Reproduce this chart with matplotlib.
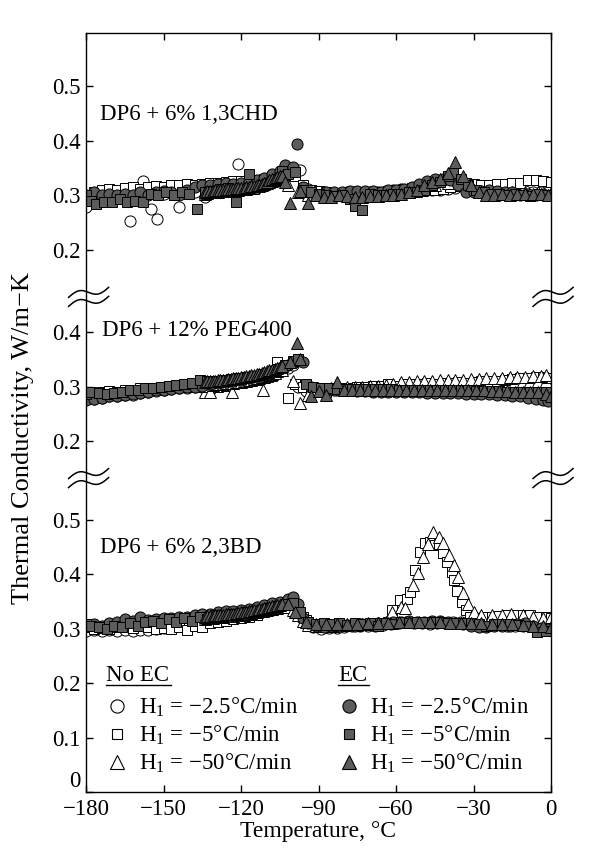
import numpy as np
import matplotlib.pyplot as plt
from matplotlib.lines import Line2D

plt.rcParams['font.family'] = 'Liberation Serif'
plt.rcParams['mathtext.fontset'] = 'custom'
plt.rcParams['mathtext.rm'] = 'Liberation Serif'
plt.rcParams['mathtext.it'] = 'Liberation Serif:italic'

# ---- data: (temperature degC, thermal conductivity W/m-K) ----
# panel 1: DP6 + 6% 1,3CHD
chd_noec_25 = [(-180,.278),(-178,.300),(-175,.305),(-172,.303),(-169,.305),(-166,.308),(-163,.252),(-160,.300),
               (-158,.326),(-155,.274),(-152.5,.256),(-150,.302),(-147,.305),(-144,.278),(-141,.310),(-138,.305),
               (-134,.296),(-131,.312),(-128,.315),(-125,.312),(-121,.357),(-118,.318),(-115,.320),(-112,.322),
               (-109,.325),(-106,.330),(-103,.336),(-100,.340),(-97,.346),(-94,.312),(-91,.306),(-88,.305),
               (-85,.303),(-82,.302),(-79,.305),(-76,.305),(-73,.303),(-70,.305),(-67,.306),(-64,.308),
               (-61,.310),(-58,.311),(-55,.312),(-52,.313),(-49,.312),(-46,.309),(-43,.309),(-40,.311),
               (-37,.313),(-34,.318),(-31,.314),(-28,.310),(-25,.310),(-22,.310),(-19,.309),(-16,.308),
               (-13,.308),(-10,.307),(-7,.306),(-4,.306),(-1,.305)]
chd_noec_5 = [(-180,.300),(-177,.305),(-174,.310),(-171,.312),(-168,.310),(-165,.313),(-162,.315),(-159,.312),
              (-156,.315),(-153,.316),(-150,.315),(-147,.318),(-144,.318),(-141,.320),(-138,.318),(-135,.320),
              (-132,.322),(-129,.323),(-126,.325),(-123,.326),(-120,.326),(-117,.328),(-114,.328),(-111,.330),
              (-108,.333),(-105,.337),(-102,.340),(-99,.335),(-96,.318),(-93,.310),(-90,.308),(-87,.305),
              (-84,.303),(-81,.302),(-78,.303),(-75,.305),(-72,.306),(-69,.306),(-66,.306),(-63,.308),
              (-60,.310),(-57,.312),(-54,.313),(-51,.315),(-48,.313),(-45,.310),(-42,.312),(-39,.315),
              (-36,.320),(-33,.322),(-30,.320),(-27,.318),(-24,.318),(-21,.320),(-18,.320),(-15,.322),
              (-12,.322),(-9,.328),(-6,.328),(-3,.326),(0,.324)]
chd_noec_50 = [(-134,.303),(-133,.304),(-132,.305),(-131,.305),(-130,.306),(-129,.306),(-128,.307),(-127,.307),
               (-126,.308),(-125,.308),(-124,.309),(-123,.309),(-122,.310),(-121,.310),(-120,.311),(-119,.311),
               (-118,.312),(-117,.313),(-116,.314),(-115,.315),(-114,.316),(-113,.317),(-112,.318),(-111,.320),
               (-110,.322),(-109,.324),(-108,.326),(-107,.327),(-106,.328),(-105,.330),(-104,.330),(-102,.318),
               (-98,.305),(-94,.300),(-90,.300),(-85,.301),(-80,.302),(-75,.302),(-70,.303),(-65,.304),
               (-60,.305),(-55,.306),(-50,.310),(-45,.318),(-40,.322),(-35,.318),(-30,.310),(-25,.306),
               (-20,.305),(-15,.305),(-10,.305),(-5,.305),(0,.304)]
chd_ec_25 = [(-180,.300),(-177,.305),(-174,.300),(-171,.302),(-168,.300),(-165,.303),(-162,.300),(-159,.305),
             (-156,.300),(-153,.305),(-150,.308),(-147,.306),(-144,.300),(-141,.310),(-138,.315),(-135,.318),
             (-132,.318),(-129,.320),(-126,.322),(-123,.320),(-120,.322),(-117,.325),(-114,.328),(-111,.332),
             (-108,.338),(-105,.345),(-103,.355),(-100,.352),(-98.5,.394),(-96,.315),(-93,.305),(-90,.300),
             (-87,.305),(-84,.305),(-81,.305),(-78,.308),(-75,.308),(-72,.308),(-69,.308),(-66,.305),
             (-63,.310),(-60,.310),(-57,.312),(-54,.315),(-51,.320),(-48,.326),(-45,.330),(-42,.330),
             (-39,.328),(-36,.318),(-33,.305),(-30,.305),(-27,.308),(-24,.310),(-21,.308),(-18,.305),
             (-15,.305),(-12,.300),(-9,.302),(-6,.300),(-3,.302),(0,.300)]
chd_ec_5 = [(-180,.300),(-178,.290),(-176,.283),(-173,.287),(-170,.288),(-167,.292),(-164,.288),(-161,.290),
            (-158,.288),(-155,.303),(-152,.300),(-149,.306),(-146,.300),(-143,.305),(-140,.303),(-137,.274),
            (-134,.305),(-131,.308),(-128,.312),(-125,.313),(-122,.287),(-117,.339),(-115,.312),(-112,.318),
            (-109,.322),(-106,.330),(-104,.344),(-102,.338),(-99,.342),(-96,.310),(-93,.305),(-90,.302),
            (-87,.300),(-84,.298),(-81,.300),(-78,.292),(-76,.280),(-73,.272),(-70,.302),(-67,.300),
            (-64,.300),(-61,.302),(-58,.303),(-55,.305),(-52,.306),(-49,.310),(-46,.318),(-43,.325),
            (-40,.335),(-38,.340),(-35,.330),(-32,.318),(-29,.310),(-26,.305),(-23,.303),(-20,.302),
            (-17,.300),(-14,.302),(-11,.300),(-8,.298),(-5,.302),(-2,.300)]
chd_ec_50 = [(-134,.306),(-133,.307),(-132,.308),(-131,.308),(-130,.309),(-129,.309),(-128,.310),(-127,.310),
             (-126,.311),(-125,.311),(-124,.312),(-123,.312),(-122,.313),(-121,.313),(-120,.314),(-119,.314),
             (-118,.315),(-117,.315),(-116,.316),(-115,.317),(-114,.318),(-113,.319),(-112,.321),(-111,.323),
             (-110,.325),(-109,.327),(-108,.329),(-107,.331),(-106,.333),(-105,.335),(-104,.336),(-103,.325),
             (-101,.285),(-97,.308),(-94,.285),(-91,.300),(-88,.297),(-85,.296),(-82,.300),(-79,.298),
             (-76,.297),(-73,.297),(-70,.298),(-67,.299),(-64,.300),(-61,.300),(-58,.303),(-55,.305),
             (-52,.310),(-49,.318),(-46,.325),(-43,.330),(-40,.340),(-37,.360),(-34,.335),(-31,.318),
             (-28,.305),(-25,.300),(-22,.300),(-19,.302),(-16,.300),(-13,.302),(-10,.302),(-7,.303),
             (-4,.302),(-1,.300)]

# panel 2: DP6 + 12% PEG400
peg_noec_25 = [(-180,.280),(-177,.278),(-174,.280),(-171,.283),(-168,.282),(-165,.285),(-162,.284),(-159,.288),
               (-156,.290),(-153,.292),(-150,.294),(-147,.295),(-144,.297),(-141,.298),(-138,.300),(-135,.300),
               (-132,.302),(-129,.304),(-126,.306),(-123,.308),(-120,.310),(-117,.312),(-114,.315),(-111,.318),
               (-108,.322),(-105,.328),(-102,.335),(-100,.340),(-98,.300),(-95,.292),(-92,.290),(-89,.292),
               (-86,.293),(-83,.294),(-80,.295),(-77,.295),(-74,.296),(-71,.296),(-68,.297),(-65,.297),
               (-62,.298),(-59,.298),(-56,.298),(-53,.299),(-50,.299),(-47,.299),(-44,.300),(-41,.300),
               (-38,.300),(-35,.300),(-32,.300),(-29,.300),(-26,.300),(-23,.300),(-20,.300),(-17,.300),
               (-14,.300),(-11,.300),(-8,.300),(-5,.300),(-2,.300)]
peg_noec_5 = [(-180,.290),(-177,.288),(-174,.290),(-171,.292),(-168,.290),(-165,.293),(-162,.292),(-159,.297),
              (-156,.296),(-153,.298),(-150,.300),(-147,.300),(-144,.302),(-141,.300),(-138,.302),(-135,.300),
              (-132,.298),(-129,.300),(-126,.302),(-123,.304),(-120,.306),(-117,.310),(-114,.312),(-111,.316),
              (-108,.320),(-106,.346),(-104,.330),(-102,.280),(-99,.305),(-96,.300),(-93,.298),(-90,.292),
              (-87,.290),(-84,.295),(-81,.298),(-78,.298),(-75,.300),(-72,.300),(-69,.302),(-66,.302),
              (-63,.304),(-60,.302),(-57,.304),(-54,.305),(-51,.304),(-48,.306),(-45,.305),(-42,.306),
              (-39,.307),(-36,.308),(-33,.307),(-30,.308),(-27,.310),(-24,.310),(-21,.311),(-18,.312),
              (-15,.314),(-12,.316),(-9,.316),(-6,.318),(-3,.318),(-1,.315)]
peg_noec_50 = [(-134,.290),(-133,.302),(-132,.290),(-131,.303),(-130,.304),(-129,.304),(-128,.305),(-127,.305),
               (-126,.306),(-125,.306),(-124,.307),(-123.5,.290),(-123,.307),(-122,.308),(-121,.308),(-120,.309),
               (-119,.310),(-118,.311),(-117,.312),(-116,.313),(-115,.314),(-114,.315),(-113,.316),(-112,.317),
               (-111.5,.293),(-111,.318),(-110,.320),(-109,.322),(-108,.324),(-107,.326),(-106,.328),(-105,.330),
               (-104,.331),(-100,.310),(-97,.270),(-94,.285),(-91,.292),(-88,.295),(-85,.298),(-82,.298),
               (-79,.299),(-76,.300),(-73,.300),(-70,.301),(-67,.302),(-64,.303),(-61,.305),(-58,.309),
               (-55,.309),(-52,.310),(-49,.311),(-46,.311),(-43,.312),(-40,.312),(-37,.313),(-34,.313),
               (-31,.314),(-28,.314),(-25,.315),(-22,.315),(-19,.316),(-16,.317),(-13,.318),(-10,.318),
               (-7,.320),(-4,.320),(-2,.322)]
peg_ec_25 = [(-180,.276),(-177,.278),(-174,.280),(-171,.282),(-168,.283),(-165,.285),(-162,.287),(-159,.289),
             (-156,.291),(-153,.293),(-150,.294),(-147,.296),(-144,.298),(-141,.299),(-138,.300),(-135,.302),
             (-132,.304),(-129,.306),(-126,.308),(-123,.310),(-120,.312),(-117,.315),(-114,.318),(-111,.322),
             (-108,.328),(-105,.335),(-102,.340),(-99,.345),(-96,.345),(-93,.300),(-90,.295),(-87,.294),
             (-84,.294),(-81,.293),(-78,.293),(-75,.292),(-72,.292),(-69,.291),(-66,.291),(-63,.291),
             (-60,.290),(-57,.290),(-54,.290),(-51,.290),(-48,.289),(-45,.289),(-42,.289),(-39,.288),
             (-36,.288),(-33,.287),(-30,.287),(-27,.286),(-24,.286),(-21,.285),(-18,.284),(-15,.283),
             (-12,.282),(-9,.280),(-6,.278),(-3,.275),(-1,.273)]
peg_ec_5 = [(-180,.287),(-178,.290),(-175,.288),(-172,.287),(-169,.288),(-166,.290),(-163,.293),(-160,.294),
            (-157,.297),(-154,.298),(-151,.300),(-148,.302),(-145,.303),(-142,.305),(-139,.306),(-136,.313),
            (-133,.310),(-130,.311),(-127,.312),(-124,.314),(-121,.316),(-118,.318),(-115,.320),(-112,.323),
            (-109,.326),(-106,.332),(-103,.340),(-100,.348),(-98,.350),(-95,.305),(-92,.300),(-89,.298),
            (-86,.297),(-83,.296),(-80,.296),(-77,.296),(-74,.295),(-71,.295),(-68,.295),(-65,.295),
            (-62,.295),(-59,.294),(-56,.294),(-53,.294),(-50,.294),(-47,.294),(-44,.294),(-41,.293),
            (-38,.293),(-35,.293),(-32,.293),(-29,.292),(-26,.292),(-23,.292),(-20,.292),(-17,.291),
            (-14,.291),(-11,.290),(-8,.290),(-5,.290),(-2,.290)]
peg_ec_50 = [(-134,.309),(-133,.310),(-132,.310),(-131,.311),(-130,.311),(-129,.312),(-128,.312),(-127,.313),
             (-126,.313),(-125,.314),(-124,.314),(-123,.315),(-122,.316),(-121,.316),(-120,.317),(-119,.318),
             (-118,.319),(-117,.320),(-116,.321),(-115,.322),(-114,.323),(-113,.324),(-112,.325),(-111,.327),
             (-110,.328),(-109,.330),(-108,.331),(-107,.333),(-106,.335),(-105,.337),(-104,.338),(-101,.345),
             (-98.5,.381),(-97,.350),(-93,.282),(-90,.292),(-87,.285),(-83,.309),(-80,.294),(-77,.294),
             (-74,.294),(-71,.294),(-68,.294),(-65,.294),(-62,.294),(-59,.294),(-56,.294),(-53,.294),
             (-50,.294),(-47,.294),(-44,.294),(-41,.294),(-38,.294),(-35,.293),(-32,.293),(-29,.293),
             (-26,.293),(-23,.292),(-20,.292),(-17,.292),(-14,.291),(-11,.291),(-8,.290),(-5,.290),
             (-2,.287),(0,.283)]

# panel 3: DP6 + 6% 2,3BD
bd_noec_25 = [(-180,.295),(-177,.298),(-174,.295),(-171,.297),(-168,.295),(-165,.298),(-162,.296),(-159,.298),
              (-156,.297),(-153,.300),(-150,.302),(-147,.303),(-144,.305),(-141,.306),(-138,.308),(-135,.310),
              (-132,.312),(-129,.315),(-126,.318),(-123,.320),(-120,.322),(-117,.325),(-114,.328),(-111,.332),
              (-108,.336),(-105,.340),(-102,.345),(-100,.340),(-98,.328),(-96,.318),(-94,.308),(-92,.303),
              (-89,.300),(-86,.302),(-83,.302),(-80,.303),(-77,.305),(-74,.305),(-71,.306),(-68,.306),
              (-65,.307),(-62,.308),(-59,.310),(-56,.312),(-53,.310),(-50,.310),(-47,.309),(-44,.310),
              (-41,.311),(-38,.312),(-35,.312),(-32,.312),(-29,.312),(-26,.310),(-23,.310),(-20,.308),
              (-17,.306),(-14,.305),(-11,.305),(-8,.306),(-5,.305),(-2,.304)]
bd_noec_5 = [(-180,.303),(-177,.300),(-174,.302),(-171,.300),(-168,.303),(-165,.305),(-162,.302),(-159,.305),
             (-156,.303),(-153,.300),(-150,.302),(-147,.300),(-144,.303),(-141,.298),(-138,.305),(-135,.303),
             (-132,.310),(-129,.312),(-126,.315),(-123,.318),(-120,.320),(-117,.322),(-114,.325),(-111,.330),
             (-108,.335),(-105,.340),(-102,.345),(-100,.342),(-98,.335),(-97,.328),(-96,.322),(-95,.316),
             (-94,.312),(-92,.308),(-90,.305),(-87,.305),(-84,.304),(-81,.305),(-78,.306),(-75,.306),
             (-72,.308),(-69,.308),(-66,.310),(-63,.312),(-61.5,.335),(-58.4,.353),(-55.7,.354),(-54.6,.368),
             (-52.6,.408),(-50.7,.441),(-48.8,.457),(-47,.460),(-45,.454),(-43.5,.455),(-41.8,.439),(-40.3,.423),
             (-38.5,.405),(-37.6,.390),(-36.4,.370),(-34.4,.349),(-33,.335),(-31.5,.322),(-29,.320),(-26,.321),
             (-23,.322),(-20,.323),(-17,.325),(-14,.326),(-11,.326),(-8,.325),(-5,.322),(-2,.322),(0,.320)]
bd_noec_50 = [(-134,.318),(-133,.319),(-132,.320),(-131,.320),(-130,.321),(-129,.321),(-128,.322),(-127,.322),
              (-126,.323),(-125,.323),(-124,.324),(-123,.324),(-122,.325),(-121,.325),(-120,.326),(-119,.326),
              (-118,.327),(-117,.328),(-116,.329),(-115,.330),(-114,.331),(-113,.332),(-112,.333),(-111,.334),
              (-110,.335),(-109,.336),(-108,.337),(-107,.338),(-106,.339),(-105,.340),(-104,.341),(-102,.340),
              (-100,.335),(-98,.325),(-96,.315),(-94,.307),(-91,.306),(-88,.306),(-85,.306),(-82,.307),
              (-79,.307),(-76,.308),(-73,.308),(-70,.309),(-67,.310),(-64,.312),(-61.5,.330),(-58,.340),
              (-56.5,.338),(-53.4,.380),(-51.5,.402),(-49.6,.432),(-47.5,.455),(-45.7,.478),(-43.5,.468),(-41.8,.457),
              (-39.5,.435),(-37.6,.417),(-36,.395),(-34,.365),(-32,.345),(-30,.330),(-27,.326),(-23,.326),
              (-19,.325),(-15.5,.327),(-11,.326),(-7,.322),(-3,.320),(0,.322)]
bd_ec_25 = [(-180,.305),(-177,.308),(-174,.305),(-171,.310),(-168,.312),(-165,.318),(-162,.314),(-159,.322),
            (-156,.316),(-153,.318),(-150,.320),(-147,.320),(-144,.322),(-141,.322),(-138,.325),(-135,.327),
            (-132,.328),(-129,.330),(-126,.332),(-123,.333),(-120,.335),(-117,.337),(-114,.340),(-111,.343),
            (-108,.347),(-105,.350),(-102,.355),(-100,.358),(-98,.345),(-96,.320),(-94,.310),(-91,.305),
            (-88,.303),(-85,.305),(-82,.305),(-79,.307),(-76,.306),(-73,.308),(-70,.308),(-67,.310),
            (-64,.310),(-61,.312),(-58,.313),(-55,.315),(-52,.312),(-49,.313),(-46,.315),(-43,.314),
            (-40,.312),(-37,.310),(-34,.308),(-31,.305),(-28,.304),(-25,.303),(-22,.305),(-19,.306),
            (-16,.305),(-13,.308),(-10,.310),(-7,.305),(-4,.302),(-1,.300)]
bd_ec_5 = [(-180,.308),(-178,.305),(-175,.303),(-172,.300),(-169,.305),(-166,.303),(-163,.310),(-160,.305),
           (-157,.312),(-154,.315),(-151,.310),(-148,.318),(-145,.312),(-142,.320),(-139,.315),(-136,.322),
           (-133,.318),(-130,.325),(-127,.322),(-124,.328),(-121,.326),(-118,.330),(-115,.332),(-112,.335),
           (-109,.338),(-106,.342),(-103,.345),(-100,.348),(-97,.330),(-94,.312),(-91,.308),(-88,.310),
           (-85,.308),(-82,.310),(-79,.307),(-76,.310),(-73,.308),(-70,.310),(-67,.306),(-64,.310),
           (-61,.308),(-58,.312),(-55,.310),(-52,.312),(-49,.313),(-46,.312),(-43,.312),(-40,.310),
           (-37,.311),(-34,.310),(-31,.310),(-28,.308),(-25,.305),(-22,.308),(-19,.308),(-16,.309),
           (-13,.307),(-10,.306),(-5.6,.294),(-1.8,.296)]
bd_ec_50 = [(-134,.322),(-133,.323),(-132,.324),(-131,.324),(-130,.325),(-129,.325),(-128,.326),(-127,.326),
            (-126,.327),(-125,.327),(-124,.328),(-123,.328),(-122,.329),(-121,.329),(-120,.330),(-119,.330),
            (-118,.331),(-117,.332),(-116,.333),(-115,.334),(-114,.335),(-113,.336),(-112,.337),(-111,.338),
            (-110,.339),(-109,.340),(-108,.341),(-107,.342),(-106,.343),(-105,.344),(-104,.345),(-102,.345),
            (-99,.330),(-95,.312),(-91,.308),(-87,.308),(-83,.308),(-79,.309),(-75,.309),(-71,.310),
            (-67,.310),(-63,.311),(-59,.312),(-55,.312),(-51,.312),(-47,.312),(-43,.312),(-39,.311),
            (-35,.311),(-31,.310),(-27,.310),(-23,.309),(-19,.308),(-15,.308),(-11,.307),(-7,.306),
            (-3,.305),(0,.304)]

panel_names = ['DP6 + 6% 1,3CHD', 'DP6 + 12% PEG400', 'DP6 + 6% 2,3BD']
rate_labels = ['H$_1$ = −2.5°C/min', 'H$_1$ = −5°C/min', 'H$_1$ = −50°C/min']
y_ticks_top = [0.2, 0.3, 0.4, 0.5]
y_ticks_mid = [0.2, 0.3, 0.4]
y_ticks_bot = [0, 0.1, 0.2, 0.3, 0.4, 0.5]
x_ticks = [-180, -150, -120, -90, -60, -30, 0]

# vertical offsets of the stacked panels on the shared axis
OFF_TOP, OFF_MID, OFF_BOT = 0.797, 0.445, 0.0
BREAKS = [0.91, 0.577]

GRAY = '#5c5c5c'
FS = 16.5

fig = plt.figure(figsize=(6, 8.57), dpi=100)
ax = fig.add_axes([86/600, 65/857, 465/600, 759/857])

styles = [('o', 8.0), ('s', 7.4), ('^', 8.6)]
panels = [(OFF_TOP, [chd_noec_25, chd_noec_5, chd_noec_50], [chd_ec_25, chd_ec_5, chd_ec_50]),
          (OFF_MID, [peg_noec_25, peg_noec_5, peg_noec_50], [peg_ec_25, peg_ec_5, peg_ec_50]),
          (OFF_BOT, [bd_noec_25, bd_noec_5, bd_noec_50], [bd_ec_25, bd_ec_5, bd_ec_50])]

for off, noec, ec in panels:
    for series, (m, s) in zip(noec, styles):
        t, v = np.array(series).T
        ax.plot(t, v + off, ls='none', marker=m, ms=s, mfc='white', mec='black', mew=0.7)
    for series, (m, s) in zip(ec, styles):
        t, v = np.array(series).T
        ax.plot(t, v + off, ls='none', marker=m, ms=s, mfc=GRAY, mec='black', mew=0.7)

# panel labels
ax.text(-174.6, 0.449 + OFF_TOP, panel_names[0], fontsize=FS, va='center')
ax.text(-173.8, 0.404 + OFF_MID, panel_names[1], fontsize=FS, va='center')
ax.text(-174.6, 0.449 + OFF_BOT, panel_names[2], fontsize=FS, va='center')

# axes and ticks
ax.set_xlim(-180, 0)
ax.set_ylim(0, 1.395)
ax.set_xticks(x_ticks)
ytick_pos = [y + OFF_BOT for y in y_ticks_bot] + [y + OFF_MID for y in y_ticks_mid] + [y + OFF_TOP for y in y_ticks_top]
ytick_lab = ['0' if y == 0 else f'{y:.1f}' for y in y_ticks_bot + y_ticks_mid + y_ticks_top]
ax.set_yticks(ytick_pos)
ax.set_yticklabels(ytick_lab)
ax.get_yticklabels()[0].set_va('bottom')
ax.tick_params(direction='in', length=5, width=1, top=True, right=True, labelsize=FS, pad=4)
ax.tick_params(axis='x', pad=5)
for sp in ax.spines.values():
    sp.set_linewidth(1.0)
ax.set_xlabel('Temperature, °C', fontsize=17, labelpad=1)
ax.set_ylabel('Thermal Conductivity, W/m−K', fontsize=19)
ax.yaxis.set_label_coords(-0.112, 0.466)

# axis-break squiggles on both spines
tt = np.linspace(-1, 1, 80)
dx = 20 * tt * 180 / 465
dy = (5 * tt - 4 * np.sin(np.pi * tt)) / 544
for yb in BREAKS:
    for x0 in (-179.0, 0.8):
        for k in (-4.5, 4.5):
            ax.plot(x0 + dx, yb + k / 544 + dy, color='black', lw=1.1, clip_on=False)

# legends
def handles(face):
    return [Line2D([], [], ls='none', marker=m, ms=s, mfc=face, mec='black', mew=0.8)
            for m, s in [('o', 9.5), ('s', 6.5), ('^', 10)]]

leg_kw = dict(loc='upper left', frameon=False, borderpad=0, borderaxespad=0, handlelength=1.0,
              handletextpad=0.45, labelspacing=0.21, fontsize=FS)
leg1 = ax.legend(handles('white'), rate_labels, bbox_to_anchor=(0.043, 0.127), **leg_kw)
ax.add_artist(leg1)
ax.legend(handles(GRAY), rate_labels, bbox_to_anchor=(0.54, 0.127), **leg_kw)

ax.text(0.043, 0.146, 'No EC', transform=ax.transAxes, fontsize=FS, va='baseline')
ax.plot([0.043, 0.183], [0.141, 0.141], transform=ax.transAxes, color='black', lw=1)
ax.text(0.542, 0.146, 'EC', transform=ax.transAxes, fontsize=FS, va='baseline')
ax.plot([0.542, 0.609], [0.141, 0.141], transform=ax.transAxes, color='black', lw=1)

fig.savefig('out.png', dpi=100)
